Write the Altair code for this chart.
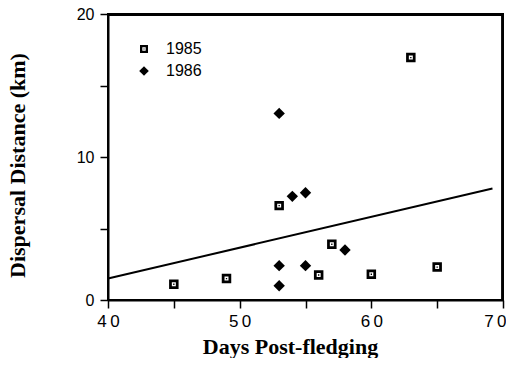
import altair as alt
import pandas as pd

# 1985 points
days_1985 = [45, 49, 53, 56, 57, 60, 63, 65]
dist_1985 = [1.1, 1.5, 6.6, 1.75, 3.9, 1.8, 16.95, 2.3]
# 1986 points
days_1986 = [53, 53, 53, 54, 55, 55, 58]
dist_1986 = [13.05, 2.4, 1.0, 7.25, 7.5, 2.4, 3.5]
# regression line endpoints
line_x = [40, 69.2]
line_y = [1.5, 7.8]
# top and right border segments of the plot frame (just inside the limits)
frame_x1 = [40, 69.93]
frame_x2 = [70, 69.93]
frame_y1 = [19.93, 0]
frame_y2 = [19.93, 20]

years = ["1985", "1986"]
pts = pd.DataFrame({
    "day": days_1985 + days_1986,
    "dist": dist_1985 + dist_1986,
    "year": ["1985"] * len(days_1985) + ["1986"] * len(days_1986),
})
line_df = pd.DataFrame({"day": line_x, "dist": line_y})
frame_df = pd.DataFrame({"x1": frame_x1, "x2": frame_x2, "y1": frame_y1, "y2": frame_y2})

W, H = 395, 286

# square with hole and centre dot, and a diamond (unit coordinates)
SQUARE_DOT = ("M-1,-1H1V1H-1Z"
              "M-0.42,-0.42V0.42H0.42V-0.42Z"
              "M-0.14,-0.14H0.14V0.14H-0.14Z")
DIAMOND = "M0,-1.2L1.2,0L0,1.2L-1.2,0Z"

x_scale = alt.Scale(domain=[40, 70], nice=False, zero=False)
y_scale = alt.Scale(domain=[0, 20], nice=False)

x_axis = alt.Axis(
    title="Days Post-fledging",
    values=[40, 45, 50, 55, 60, 65, 70],
    labelExpr="datum.value % 10 == 0 ? join(split(datum.label, ''), '\u2009') : ''",
    labelAlign={"condition": {"test": "datum.value == 70", "value": "right"}, "value": "center"},
    labelOffset={"condition": {"test": "datum.value == 70", "value": 3}, "value": 0},
    labelFont="Liberation Sans", labelFontSize=17, labelColor="black",
    labelPadding=5, labelFlush=False, tickSize=8, tickWidth=1.5, tickColor="black",
    domainColor="black", domainWidth=2, grid=False,
    titleFont="Liberation Serif", titleFontSize=22, titleFontWeight="bold",
    titleColor="black", titleX=182, titleY=53, titleBaseline="alphabetic",
    titleAlign="center",
)
y_axis = alt.Axis(
    title="Dispersal  Distance    (km)",
    values=[0, 5, 10, 15, 20],
    labelExpr="datum.value % 10 == 0 ? datum.label : ''",
    labelFont="Liberation Sans", labelFontSize=16, labelColor="black",
    labelPadding=6, labelFlush=False, tickSize=8, tickWidth=1.5, tickColor="black",
    domainColor="black", domainWidth=2, grid=False,
    titleFont="Liberation Serif", titleFontSize=22, titleFontWeight="bold",
    titleColor="black", titleX=-91, titleY=151, titleAngle=-90,
    titleBaseline="middle", titleAlign="center",
)

legend = alt.Legend(title=None, orient="none", legendX=28, legendY=27,
                    labelFont="Liberation Sans", labelFontSize=16,
                    labelColor="black", labelOffset=14, rowPadding=6,
                    symbolSize=64, symbolFillColor="black",
                    symbolStrokeWidth=0, padding=0)

points = alt.Chart(pts).mark_point(
    filled=True, color="black", opacity=1, size=90
).encode(
    x=alt.X("day:Q", scale=x_scale, axis=x_axis),
    y=alt.Y("dist:Q", scale=y_scale, axis=y_axis),
    shape=alt.Shape("year:N", scale=alt.Scale(domain=years, range=[SQUARE_DOT, DIAMOND]),
                    legend=legend),
)

line = alt.Chart(line_df).mark_line(color="black", strokeWidth=2).encode(
    x=alt.X("day:Q", scale=x_scale),
    y=alt.Y("dist:Q", scale=y_scale),
)

frame = alt.Chart(frame_df).mark_rule(color="black", strokeWidth=2).encode(
    x=alt.X("x1:Q", scale=x_scale),
    x2="x2:Q",
    y=alt.Y("y1:Q", scale=y_scale),
    y2="y2:Q",
)

chart = alt.layer(frame, line, points).properties(
    width=W, height=H,
    background="white",
    autosize=alt.AutoSizeParams(type="none"),
    padding={"left": 100, "top": 6, "right": 3, "bottom": 58},
).configure_view(stroke="black", strokeWidth=2)

chart.save("out.html", embed_options={"renderer": "svg", "actions": False})
